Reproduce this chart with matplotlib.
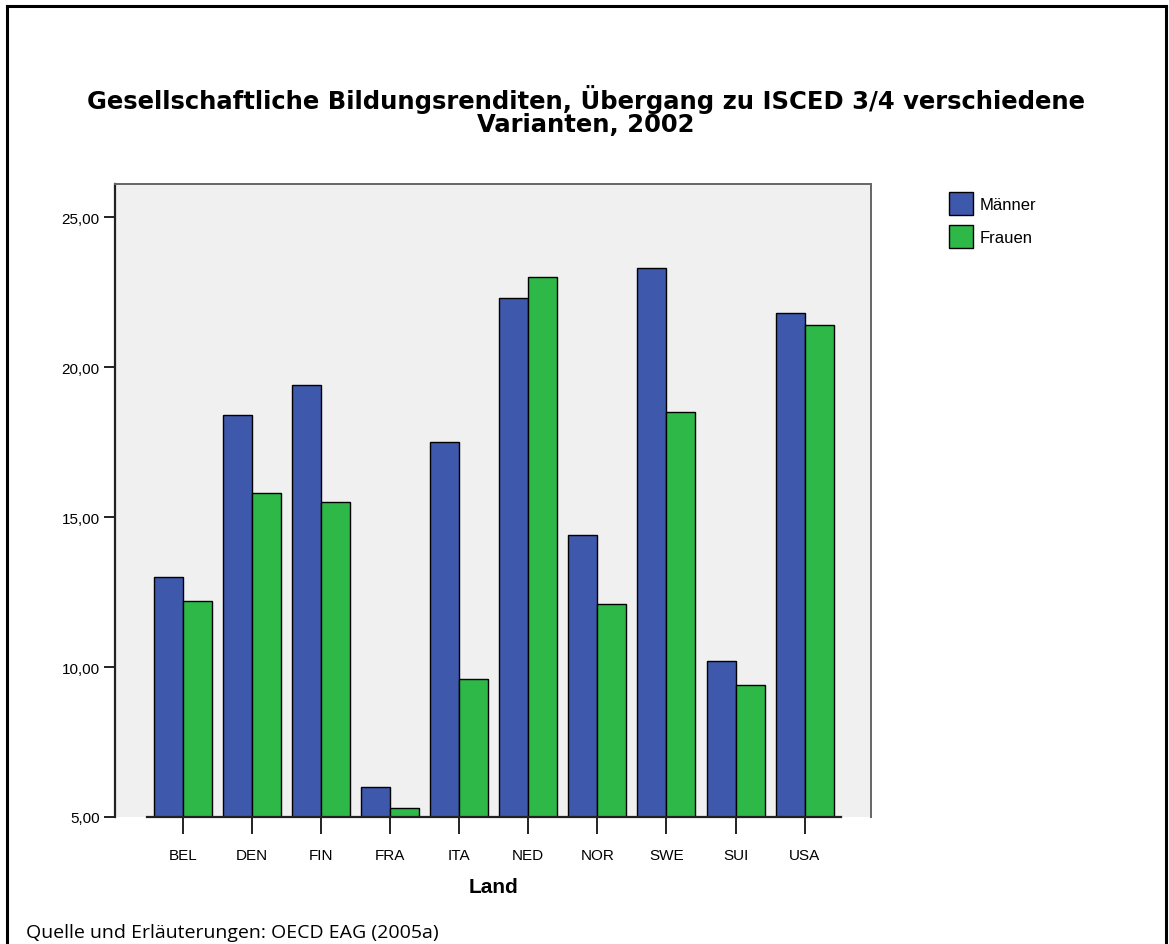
import matplotlib
matplotlib.use("Agg")
import matplotlib.pyplot as plt
from matplotlib.patches import Patch
from matplotlib.lines import Line2D
from matplotlib.ticker import FuncFormatter

# Data
laender = ["BEL", "DEN", "FIN", "FRA", "ITA", "NED", "NOR", "SWE", "SUI", "USA"]
maenner = [13.0, 18.4, 19.4, 6.0, 17.5, 22.3, 14.4, 23.3, 10.2, 21.8]
frauen = [12.2, 15.8, 15.5, 5.3, 9.6, 23.0, 12.1, 18.5, 9.4, 21.4]
y_ticks = [5, 10, 15, 20, 25]

BLUE = "#3E58AC"
GREEN = "#2EB848"
BG = "#F0F0F0"


def plot_chart(output_file):
    plt.rcParams["font.family"] = ["Liberation Sans", "DejaVu Sans"]
    fig = plt.figure(figsize=(11.69, 9.45), dpi=100)

    # outer frame (left, top, right)
    fig.add_artist(Line2D([7 / 1169, 7 / 1169], [0, 1 - 7 / 945], color="black", lw=2.2))
    fig.add_artist(Line2D([7 / 1169, 1166 / 1169], [1 - 7 / 945, 1 - 7 / 945], color="black", lw=2.2))
    fig.add_artist(Line2D([1166 / 1169, 1166 / 1169], [0, 1 - 7 / 945], color="black", lw=2.2))

    ax = fig.add_axes([115 / 1169, 1 - 818 / 945, (871 - 115) / 1169, (818 - 185) / 945])
    ax.set_facecolor(BG)

    x = list(range(len(laender)))
    w = 0.42
    ax.bar([i - w / 2 for i in x], maenner, width=w, color=BLUE, edgecolor="black",
           linewidth=1.0, label="Männer", zorder=3)
    ax.bar([i + w / 2 for i in x], frauen, width=w, color=GREEN, edgecolor="black",
           linewidth=1.0, label="Frauen", zorder=3)

    ax.set_xlim(-0.98, 9.96)
    ax.set_ylim(5, 26.1)

    # spines
    ax.spines["left"].set_color("#222222")
    ax.spines["left"].set_linewidth(1.6)
    for s in ["top", "right"]:
        ax.spines[s].set_color("#666666")
        ax.spines[s].set_linewidth(1.4)
    ax.spines["bottom"].set_visible(False)
    ax.plot([-0.52, 9.52], [5, 5], color="#222222", lw=1.6, clip_on=False, zorder=4)

    ax.set_yticks(y_ticks)
    ax.yaxis.set_major_formatter(FuncFormatter(lambda v, p: f"{v:.2f}".replace(".", ",")))
    ax.set_xticks(x)
    ax.set_xticklabels(laender)
    ax.tick_params(axis="y", length=8, width=1.4, color="#222222", labelsize=11, pad=3)
    ax.tick_params(axis="x", length=12, width=1.4, color="#222222", labelsize=11, pad=10)

    ax.set_xlabel("Land", fontsize=15, fontweight="bold", labelpad=11)

    fig.text(586 / 1169, 1 - 111 / 945,
             "Gesellschaftliche Bildungsrenditen, Übergang zu ISCED 3/4 verschiedene\nVarianten, 2002",
             ha="center", va="center", fontsize=17.5, fontweight="bold", linespacing=0.95,
             family=["DejaVu Sans"])

    handles = [Patch(facecolor=BLUE, edgecolor="black", label="Männer"),
               Patch(facecolor=GREEN, edgecolor="black", label="Frauen")]
    fig.legend(handles=handles, loc="upper left", bbox_to_anchor=(942 / 1169, 1 - 186 / 945),
               frameon=False, fontsize=12, handlelength=1.45, handleheight=1.75,
               handletextpad=0.4, labelspacing=0.6, borderaxespad=0)

    fig.text(26 / 1169, 1 - 933 / 945, "Quelle und Erläuterungen: OECD EAG (2005a)",
             ha="left", va="center", fontsize=14, family=["Open Sans", "DejaVu Sans"])

    fig.savefig(output_file, dpi=100, facecolor="white")
    print(f"Plot saved as {output_file}")


if __name__ == "__main__":
    plot_chart("out.png")
